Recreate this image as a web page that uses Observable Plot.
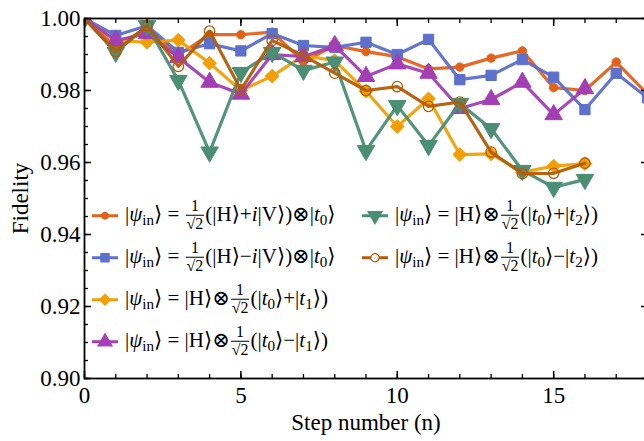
<!DOCTYPE html>
<html><head><meta charset="utf-8">
<script src="https://cdn.jsdelivr.net/npm/d3@7"></script>
<script src="https://cdn.jsdelivr.net/npm/@observablehq/plot@0.6"></script>
<style>
html,body{margin:0;padding:0;background:#fff;overflow:hidden;width:644px;height:441px}
#wrap{position:relative;width:650px;height:441px}
.leg{position:absolute;font-family:"Liberation Serif","DejaVu Serif",serif;font-size:21px;color:#000;display:flex;align-items:center;white-space:nowrap;transform:translateY(-50%)}
.leg svg{margin-right:7px;overflow:visible;flex:none}
.m{display:inline;white-space:pre}
.frac{display:inline-block;vertical-align:middle;text-align:center;font-size:0.76em;line-height:1.05;margin:0 1px;position:relative;top:-0.05em}
.frac .num{display:block;border-bottom:1px solid #000;padding:0 2px}
.frac .den{display:block;padding:0 1px}
sub{font-size:0.72em;vertical-align:-0.28em;line-height:0}
</style></head>
<body><div id="wrap"></div>
<script>
// ---- data ----
const steps = [0,1,2,3,4,5,6,7,8,9,10,11,12,13,14,15,16,17,18];
const fidHplusiV  = [1.000,0.9922,0.9975,0.9898,0.9955,0.9955,0.9962,0.9880,0.9925,0.9908,0.9894,0.9860,0.9865,0.9890,0.9910,0.9808,0.9800,0.9879,0.9790];
const fidHminusiV = [1.000,0.9953,0.9980,0.9906,0.9930,0.9910,0.9958,0.9925,0.9920,0.9934,0.9900,0.9942,0.9830,0.9842,0.9886,0.9837,0.9747,0.9848,0.9780];
const fidT0plusT1  = [1.000,0.9939,0.9934,0.9940,0.9876,0.9800,0.9840,0.9897,0.9883,0.9798,0.9700,0.9777,0.9622,0.9624,0.9573,0.9590,0.9597];
const fidT0minusT1 = [1.000,0.9939,0.9958,0.9892,0.9823,0.9790,0.9900,0.9894,0.9925,0.9839,0.9874,0.9848,0.9750,0.9775,0.9823,0.9733,0.9805];
const fidT0plusT2  = [1.000,0.9906,0.9980,0.9828,0.9629,0.9850,0.9906,0.9856,0.9879,0.9633,0.9758,0.9647,0.9764,0.9694,0.9578,0.9531,0.9553];
const fidT0minusT2 = [1.000,0.9908,0.9980,0.9867,0.9965,0.9802,0.9939,0.9897,0.9848,0.9800,0.9811,0.9756,0.9768,0.9629,0.9569,0.9570,0.9598];
const xMajorTicks = [0,5,10,15];
const yMajorTicks = [0.90,0.92,0.94,0.96,0.98,1.00];
const xLabel = "Step number (n)";
const yLabel = "Fidelity";
const psi = '|<i>ψ</i><sub>in</sub>⟩ = ';
const fr = '<span class="frac"><span class="num">1</span><span class="den">√2</span></span>';
const legendLabels = [
  psi + fr + '(|H⟩+<i>i</i>|V⟩)⊗|<i>t</i><sub>0</sub>⟩',
  psi + fr + '(|H⟩−<i>i</i>|V⟩)⊗|<i>t</i><sub>0</sub>⟩',
  psi + '|H⟩⊗' + fr + '(|<i>t</i><sub>0</sub>⟩+|<i>t</i><sub>1</sub>⟩)',
  psi + '|H⟩⊗' + fr + '(|<i>t</i><sub>0</sub>⟩−|<i>t</i><sub>1</sub>⟩)',
  psi + '|H⟩⊗' + fr + '(|<i>t</i><sub>0</sub>⟩+|<i>t</i><sub>2</sub>⟩)',
  psi + '|H⟩⊗' + fr + '(|<i>t</i><sub>0</sub>⟩−|<i>t</i><sub>2</sub>⟩)'
];

// ---- styles ----
const series = [
  {values: fidHplusiV,  color:"#E2621B", symbol:"circle",   r:4.2, filled:true,  rotate:0},
  {values: fidHminusiV, color:"#5C70CC", symbol:"square",   r:5.8, filled:true,  rotate:0},
  {values: fidT0plusT1, color:"#F29F05", symbol:"diamond2", r:6.2, filled:true,  rotate:0},
  {values: fidT0minusT1,color:"#A33FB5", symbol:"triangle", r:6.5, filled:true,  rotate:0},
  {values: fidT0plusT2, color:"#4A8E74", symbol:"triangle", r:6.5, filled:true,  rotate:180},
  {values: fidT0minusT2,color:"#B35C07", symbol:"circle",   r:5.2, filled:false, rotate:0}
];
const legendPos = [[92,216],[92,258],[92,300],[92,342],[362,216],[362,258]];

const font = '"Liberation Serif","DejaVu Serif",serif';
const rowsOf = s => s.values.map((v,i)=>({n: steps[i], f: v}));

const marks = [];
series.forEach(s => {
  const rows = rowsOf(s);
  marks.push(Plot.line(rows, {x:"n", y:"f", stroke:s.color, strokeWidth:3.2, strokeOpacity:0.95, clip:true}));
  marks.push(Plot.dot(rows, {x:"n", y:"f", symbol:s.symbol, r:s.r, rotate:s.rotate,
    fill: s.filled ? s.color : "none", stroke:s.color, strokeWidth: s.filled ? 1 : 1.3, clip:true}));
});
const minorX = d3.range(0, 19, 1);
const minorY = d3.range(0, 21).map(i => +(0.90 + i*0.005).toFixed(3));
marks.push(
  Plot.frame({stroke:"#000", strokeWidth:1.8}),
  Plot.axisX({anchor:"bottom", ticks:xMajorTicks, tickSize:0, tickPadding:8, tickFormat:d=>d, label:xLabel, labelAnchor:"center", labelOffset:51, labelArrow:false}),
  Plot.axisX({anchor:"bottom", ticks:xMajorTicks, tickSize:-7, text:null, label:null, strokeWidth:1.5}),
  Plot.axisX({anchor:"bottom", ticks:minorX, tickSize:-4, text:null, label:null, strokeWidth:1.3}),
  Plot.axisX({anchor:"top", ticks:xMajorTicks, tickSize:-7, text:null, label:null, strokeWidth:1.5}),
  Plot.axisX({anchor:"top", ticks:minorX, tickSize:-4, text:null, label:null, strokeWidth:1.3}),
  Plot.axisY({anchor:"left", ticks:yMajorTicks, tickSize:0, tickPadding:4, tickFormat:d3.format(".2f"), label:yLabel, labelAnchor:"center", labelOffset:73, labelArrow:false}),
  Plot.axisY({anchor:"left", ticks:yMajorTicks, tickSize:-7, text:null, label:null, strokeWidth:1.5}),
  Plot.axisY({anchor:"left", ticks:minorY, tickSize:-4, text:null, label:null, strokeWidth:1.3}),
  Plot.axisY({anchor:"right", ticks:yMajorTicks, tickSize:-7, text:null, label:null, strokeWidth:1.5}),
  Plot.axisY({anchor:"right", ticks:minorY, tickSize:-4, text:null, label:null, strokeWidth:1.3})
);

const chart = Plot.plot({
  width:650, height:441,
  marginLeft:84, marginRight:3, marginTop:18, marginBottom:63,
  style:{fontFamily:font, fontSize:"23px", color:"#000", background:"#fff", overflow:"visible"},
  x:{domain:[0,18]},
  y:{domain:[0.90,1.00]},
  marks
});
const wrap = document.getElementById("wrap");
wrap.appendChild(chart);

// ---- legend ----
legendLabels.forEach((lab, i) => {
  const s = series[i];
  const div = document.createElement("div");
  div.className = "leg";
  div.style.left = legendPos[i][0] + "px";
  div.style.top = legendPos[i][1] + "px";
  const sym = {circle:d3.symbolCircle, square:d3.symbolSquare, diamond2:d3.symbolDiamond2, triangle:d3.symbolTriangle}[s.symbol];
  const sz = Math.PI * (s.r*0.8) * (s.r*0.8);
  const path = d3.symbol(sym, sz)();
  div.innerHTML = `<svg width="26" height="14" viewBox="-13 -7 26 14"><line x1="-13" x2="13" y1="0" y2="0" stroke="${s.color}" stroke-width="3"/><path d="${path}" transform="rotate(${s.rotate})" fill="${s.filled ? s.color : '#fff'}" stroke="${s.color}" stroke-width="1.2"/></svg><span class="m">${lab}</span>`;
  wrap.appendChild(div);
});
</script></body></html>
